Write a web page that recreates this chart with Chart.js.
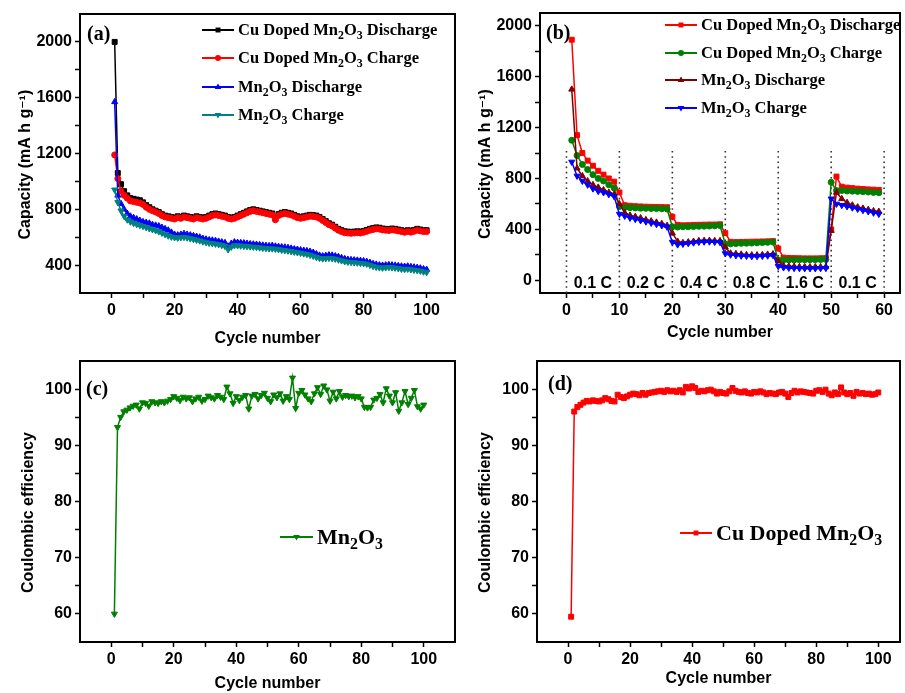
<!DOCTYPE html>
<html>
<head>
<meta charset="utf-8">
<script src="https://cdn.jsdelivr.net/npm/chart.js@4"></script>
<style>
html, body { margin: 0; padding: 0; background: #fff; width: 905px; height: 693px; overflow: hidden; }
canvas.plot { position: absolute; }
.tag { position: absolute; font: bold 20px "Liberation Serif", "Times New Roman", serif; line-height: 24px; color: #000; }
.legend { position: absolute; font: bold 16.5px "Liberation Serif", "Times New Roman", serif; color: #000; }
.legend .row { display: flex; align-items: center; white-space: nowrap; }
.legend canvas { margin-right: 4px; }
.legend sub { font-size: 0.72em; vertical-align: -0.32em; line-height: 0; }
</style>
</head>
<body>
<canvas class="plot" id="chartA" width="460" height="350" style="left:0;top:0"></canvas>
<canvas class="plot" id="chartB" width="445" height="345" style="left:460px;top:0"></canvas>
<canvas class="plot" id="chartC" width="460" height="353" style="left:0;top:340px"></canvas>
<canvas class="plot" id="chartD" width="445" height="353" style="left:460px;top:340px"></canvas>

<div class="tag" style="left:87px;top:21px">(a)</div>
<div class="tag" style="left:546px;top:20px">(b)</div>
<div class="tag" style="left:86px;top:376px">(c)</div>
<div class="tag" style="left:548px;top:371px">(d)</div>

<div class="legend" id="legendA" style="left:202px;top:16px"></div>
<div class="legend" id="legendB" style="left:665px;top:11px"></div>
<div class="legend" id="legendC" style="left:280px;top:523px;font-size:22px"></div>
<div class="legend" id="legendD" style="left:680px;top:519px;font-size:22px"></div>

<script>
// ---- Panel (a): long cycling, capacity vs cycle number ----
const aNames = ['Cu Doped Mn2O3 Discharge', 'Cu Doped Mn2O3 Charge', 'Mn2O3 Discharge', 'Mn2O3 Charge'];
const aCuDischarge = [
    2000, 1060, 980, 930, 900, 880, 875, 870, 865, 850,
    830, 815, 800, 790, 780, 765, 755, 750, 745, 740,
    750, 745, 755, 750, 745, 740, 750, 745, 740, 745,
    755, 765, 770, 765, 760, 755, 745, 740, 745, 755,
    765, 775, 785, 795, 800, 795, 790, 785, 780, 775,
    770, 735, 765, 775, 780, 775, 770, 760, 750, 745,
    750, 755, 760, 758, 755, 745, 730, 715, 700, 690,
    675, 660, 650, 642, 640, 638, 640, 642, 640, 645,
    652, 660, 665, 670, 668, 662, 660, 658, 662, 660,
    655, 650, 645, 650, 646, 652, 660, 655, 650, 650
];
const aCuCharge = [
    1190, 1020, 930, 900, 880, 860, 855, 850, 845, 835,
    815, 800, 790, 780, 770, 755, 745, 740, 735, 730,
    740, 735, 745, 740, 735, 730, 740, 735, 730, 735,
    745, 755, 760, 755, 750, 745, 735, 730, 735, 745,
    755, 765, 775, 785, 790, 785, 780, 775, 770, 765,
    760, 725, 755, 765, 770, 765, 760, 750, 740, 735,
    740, 745, 750, 748, 745, 735, 720, 705, 690, 680,
    665, 650, 640, 632, 630, 628, 630, 632, 630, 635,
    642, 650, 655, 660, 658, 652, 650, 648, 652, 650,
    645, 640, 635, 640, 636, 642, 650, 645, 640, 640
];
const aMnDischarge = [
    1570, 900, 840, 800, 770, 750, 740, 730, 720, 710,
    705, 700, 690, 685, 680, 670, 660, 650, 635, 620,
    615, 620, 625, 620, 615, 610, 605, 600, 590, 585,
    580, 578, 575, 570, 565, 560, 535, 555, 565, 562,
    560, 558, 555, 552, 550, 548, 545, 542, 540, 538,
    540, 535, 532, 530, 528, 525, 520, 515, 512, 508,
    505, 502, 498, 490, 480, 470, 465, 468, 472, 470,
    465, 460, 452, 445, 440, 438, 436, 434, 432, 430,
    425, 418, 410, 405, 400, 398, 400, 402, 400, 398,
    395, 392, 390, 392, 388, 385, 382, 378, 372, 368
];
const aMnCharge = [
    940, 850, 790, 750, 725, 710, 700, 692, 685, 678,
    670, 662, 655, 648, 640, 630, 620, 610, 602, 598,
    595, 598, 600, 596, 590, 585, 580, 575, 568, 562,
    558, 555, 552, 548, 542, 536, 512, 530, 540, 540,
    538, 536, 534, 532, 530, 528, 525, 522, 520, 518,
    518, 515, 512, 508, 505, 502, 498, 494, 490, 486,
    482, 478, 472, 465, 456, 450, 446, 448, 450, 448,
    444, 438, 432, 426, 422, 420, 418, 416, 414, 412,
    408, 400, 392, 386, 382, 380, 382, 384, 382, 380,
    376, 372, 370, 372, 368, 365, 362, 358, 352, 348
];
const aYMajor = [400, 800, 1200, 1600, 2000];
const aYMinor = [600, 1000, 1400, 1800];
const aXMajor = [0, 20, 40, 60, 80, 100];
const aXMinor = [10, 30, 50, 70, 90];

// ---- Panel (b): rate capability ----
const bNames = ['Cu Doped Mn2O3 Discharge', 'Cu Doped Mn2O3 Charge', 'Mn2O3 Discharge', 'Mn2O3 Charge'];
const bCuDischarge = [
    1890, 1140, 1000, 940, 900, 860, 830, 800, 775,
    690, 590, 585, 582, 580, 578, 577, 576, 575, 574,
    500, 435, 432, 433, 435, 436, 437, 438, 438, 440,
    370, 302, 300, 301, 302, 303, 304, 305, 306, 308,
    250, 178, 175, 174, 173, 172, 172, 172, 173, 174,
    400, 815, 735, 728, 724, 720, 717, 714, 712, 710
];
const bCuCharge = [
    1100, 980, 910, 870, 830, 800, 780, 750, 725,
    580, 572, 570, 568, 566, 565, 564, 563, 562, 560,
    420, 418, 420, 421, 422, 424, 425, 426, 428, 430,
    285, 286, 288, 290, 291, 292, 294, 296, 298, 300,
    160, 160, 160, 160, 161, 161, 162, 162, 163, 164,
    770, 705, 705, 702, 700, 698, 696, 694, 690, 688
];
const bMnDischarge = [
    1500, 880, 820, 780, 750, 730, 710, 690, 675,
    600, 530, 510, 500, 490, 475, 465, 455, 445, 430,
    370, 305, 295, 300, 305, 310, 312, 312, 310, 310,
    260, 212, 208, 204, 200, 198, 198, 200, 203, 206,
    150, 115, 110, 108, 106, 105, 105, 105, 105, 106,
    390, 690, 640, 610, 590, 575, 565, 555, 545, 540
];
const bMnCharge = [
    930, 820, 780, 750, 720, 700, 690, 675, 660,
    520, 505, 490, 480, 470, 460, 450, 440, 430, 420,
    300, 280, 285, 290, 295, 300, 302, 303, 300, 298,
    210, 200, 195, 192, 190, 188, 188, 190, 193, 196,
    110, 100, 97, 95, 94, 93, 93, 93, 94, 95,
    640, 600, 590, 580, 570, 560, 550, 540, 530, 520
];
const bDividers = [0, 10, 20, 30, 40, 50, 60];
const bRates = ['0.1 C', '0.2 C', '0.4 C', '0.8 C', '1.6 C', '0.1 C'];
const bYMajor = [0, 400, 800, 1200, 1600, 2000];
const bYMinor = [200, 600, 1000, 1400, 1800];
const bXMajor = [0, 10, 20, 30, 40, 50, 60];
const bXMinor = [5, 15, 25, 35, 45, 55];

// ---- Panel (c): coulombic efficiency, Mn2O3 ----
const cName = 'Mn2O3';
const cEfficiency = [
    60, 93.2, 95, 96, 96.3, 96.7, 97, 97.2, 96.5, 97.6,
    97.5, 97, 97.8, 97.6, 97.5, 97.8, 97.6, 97.9, 98.2, 98.7,
    98.4, 98, 98.6, 98.3, 98.5, 97.8, 98.3, 98.6, 97.9, 98.2,
    98.8, 98.5, 98.3, 98.9, 98.6, 98.2, 100.4, 99.2, 97.5, 98.7,
    98, 98.6, 98.9, 96.5, 98.8, 99.1, 98.3, 98.9, 99.3, 98.4,
    97.8, 99, 98.5, 99.2, 97.9, 98.7, 98.2, 102, 96.6, 99.3,
    99.8, 99, 98.3, 97.8, 99.2, 100.3, 99.1, 100.6, 99.9, 97.9,
    99.5, 98.3, 99.6, 98.6, 98.9, 98.7, 98.8, 98.5, 98.7, 98.3,
    96.8, 96.7, 96.8, 98.1, 98.4, 99.1, 97.6, 100.1, 98.8, 97.6,
    99.4, 96.1, 97.6, 99.6, 97.3, 98.4, 99.8, 96.9, 96.5, 97.2
];

// ---- Panel (d): coulombic efficiency, Cu doped Mn2O3 ----
const dName = 'Cu Doped Mn2O3';
const dEfficiency = [
    59.5, 96, 96.8, 97.2, 97.6, 97.9, 97.8, 98, 97.9, 97.8,
    98, 98.4, 98.2, 97.9, 97.8, 99, 98.6, 98.4, 98.7, 99,
    99.2, 99.1, 98.9, 99.3, 99, 99.3, 99.4, 99.5, 99.6, 99.7,
    99.5, 99.8, 99.6, 99.7, 99.5, 99.8, 99.4, 100.4, 100.1, 100.5,
    100.2, 99.5, 99.7, 99.6, 99.8, 99.9, 99.6, 99.2, 99.5, 99.3,
    99.2, 99.6, 100.2, 99.7, 99.5, 99.4, 99.6, 99.3, 99.2, 99.5,
    99.4, 99.6, 99.4, 99.1, 99.3, 99.2, 99.1, 99.4, 99.5, 99.2,
    98.6, 99.3, 99.7, 99.4, 99.6, 99.5, 99.4, 99.3, 99.2, 99.7,
    99.8, 99.5, 99.9, 99.2, 98.9, 99.4, 99.1, 100.3, 99.4, 99.1,
    99.3, 98.8, 99.5, 99.2, 99.3, 99.1, 99.2, 99, 99.1, 99.4
];
const effYMajor = [60, 70, 80, 90, 100];
const effYMinor = [65, 75, 85, 95];

// ---- shared styling ----
const tickFont = { family: '"Liberation Sans", Arial, "DejaVu Sans", sans-serif', weight: 'bold', size: 16 };
const titleFont = { family: '"Liberation Sans", Arial, "DejaVu Sans", sans-serif', weight: 'bold', size: 16 };

// Draws top/right border of the plot box
const framePlugin = {
    id: 'frame',
    afterDraw(chart) {
        const { ctx, chartArea: a } = chart;
        ctx.save();
        ctx.strokeStyle = '#000';
        ctx.lineWidth = 2;
        ctx.beginPath();
        ctx.moveTo(a.left, a.top);
        ctx.lineTo(a.right, a.top);
        ctx.lineTo(a.right, a.bottom);
        ctx.stroke();
        ctx.restore();
    }
};

// C-rate labels between the dotted dividers of panel (b)
const rateLabelPlugin = {
    id: 'rateLabels',
    afterDatasetsDraw(chart) {
        const { ctx, scales } = chart;
        ctx.save();
        ctx.fillStyle = '#000';
        ctx.font = 'bold 16px "Liberation Sans", Arial, sans-serif';
        ctx.textAlign = 'center';
        ctx.textBaseline = 'middle';
        bRates.forEach((txt, i) => {
            const mid = (bDividers[i] + bDividers[i + 1]) / 2;
            ctx.fillText(txt, scales.x.getPixelForValue(mid), scales.y.getPixelForValue(-26));
        });
        ctx.restore();
    }
};

function axis(o) {
    return {
        type: 'linear',
        min: o.min,
        max: o.max,
        afterBuildTicks: s => {
            s.ticks = o.major.concat(o.minor).sort((p, q) => p - q).map(v => ({ value: v }));
        },
        afterFit: s => {
            if (s.isHorizontal()) s.height = o.box;
            else s.width = o.box;
        },
        ticks: {
            autoSkip: false, maxRotation: 0, padding: 3, color: '#000', font: tickFont,
            callback: v => (o.major.includes(v) ? String(v) : '')
        },
        grid: { drawOnChartArea: false, tickLength: 5, tickColor: '#000', tickWidth: 1.5 },
        border: { color: '#000', width: 2 },
        title: { display: true, text: o.title, color: '#000', font: titleFont, padding: o.titlePad }
    };
}

function series(label, values, color, style, radius, rotation, order) {
    return {
        label: label,
        data: values.map((y, i) => ({ x: i + 1, y: y })),
        borderColor: color,
        backgroundColor: color,
        borderWidth: 1.5,
        pointStyle: style,
        pointRadius: radius,
        pointRotation: rotation,
        pointBorderWidth: 1,
        order: order
    };
}

function makeChart(id, datasets, x, y, pad, extra) {
    return new Chart(document.getElementById(id), {
        type: 'line',
        data: { datasets: datasets },
        options: {
            responsive: false,
            animation: false,
            devicePixelRatio: 1,
            layout: { padding: pad },
            plugins: { legend: { display: false }, tooltip: { enabled: false } },
            scales: { x: x, y: y }
        },
        plugins: [framePlugin].concat(extra || [])
    });
}

// y titles are padded with trailing spaces so the visible text sits a bit lower, like the original
const capTitle = 'Capacity (mA h g\u207B\u00B9)     ';
const effTitle = 'Coulombic efficiency     ';

// Panel (a)
makeChart('chartA', [
    series(aNames[0], aCuDischarge, '#000000', 'rect', 3.5, 0, 4),
    series(aNames[1], aCuCharge, '#ff0000', 'circle', 3, 0, 3),
    series(aNames[2], aMnDischarge, '#0000ff', 'triangle', 3.5, 0, 2),
    series(aNames[3], aMnCharge, '#008080', 'triangle', 3.5, 180, 1)
],
    axis({ min: -10, max: 109, major: aXMajor, minor: aXMinor, box: 57, title: 'Cycle number', titlePad: { top: 0, bottom: 2 } }),
    axis({ min: 200, max: 2200, major: aYMajor, minor: aYMinor, box: 80, title: capTitle, titlePad: { top: 16, bottom: 0 } }),
    { left: 0, top: 14, right: 5, bottom: 0 });

// Panel (b)
const bDividerSets = bDividers.map(d => ({
    data: [{ x: d, y: -100 }, { x: d, y: 1020 }],
    borderColor: '#333',
    borderWidth: 1.6,
    borderDash: [1.6, 3.6],
    pointRadius: 0,
    order: 10
}));
makeChart('chartB', [
    series(bNames[0], bCuDischarge, '#ff0000', 'rect', 3.5, 0, 4),
    series(bNames[1], bCuCharge, '#008000', 'circle', 3, 0, 3),
    series(bNames[2], bMnDischarge, '#800000', 'triangle', 3.5, 0, 2),
    series(bNames[3], bMnCharge, '#0000ff', 'triangle', 3.5, 180, 1)
].concat(bDividerSets),
    axis({ min: -5, max: 63, major: bXMajor, minor: bXMinor, box: 52, title: 'Cycle number', titlePad: { top: 0, bottom: 3 } }),
    axis({ min: -100, max: 2100, major: bYMajor, minor: bYMinor, box: 80, title: capTitle, titlePad: { top: 16, bottom: 0 } }),
    { left: 0, top: 13, right: 2, bottom: 0 },
    [rateLabelPlugin]);

// Panel (c)
makeChart('chartC', [
    series(cName, cEfficiency, '#008000', 'triangle', 3.5, 180, 1)
],
    axis({ min: -10, max: 110, major: aXMajor, minor: aXMinor, box: 51, title: 'Cycle number', titlePad: { top: 0, bottom: 0 } }),
    axis({ min: 55, max: 105, major: effYMajor, minor: effYMinor, box: 80, title: effTitle, titlePad: { top: 19, bottom: 0 } }),
    { left: 0, top: 21, right: 5, bottom: 0 });

// Panel (d)
makeChart('chartD', [
    series(dName, dEfficiency, '#ff0000', 'rect', 3.5, 0, 1)
],
    axis({ min: -10, max: 107, major: aXMajor, minor: aXMinor, box: 51, title: 'Cycle number', titlePad: { top: 0, bottom: 5 } }),
    axis({ min: 55, max: 105, major: effYMajor, minor: effYMinor, box: 77, title: effTitle, titlePad: { top: 16, bottom: 0 } }),
    { left: 0, top: 21, right: 2, bottom: 0 });

// ---- HTML legends (so Mn2O3 can carry real subscripts) ----
function drawMarker(ctx, style, x, y, r, rotation) {
    ctx.beginPath();
    if (style === 'rect') {
        const s = r * Math.SQRT1_2;
        ctx.rect(x - s, y - s, 2 * s, 2 * s);
    } else if (style === 'circle') {
        ctx.arc(x, y, r, 0, Math.PI * 2);
    } else {
        const dir = rotation === 180 ? -1 : 1;
        ctx.moveTo(x, y - dir * r);
        ctx.lineTo(x + r * 0.95, y + dir * r * 0.6);
        ctx.lineTo(x - r * 0.95, y + dir * r * 0.6);
        ctx.closePath();
    }
    ctx.fill();
}

function buildLegend(elId, chartId, rowHeight, swatchW) {
    const chart = Chart.getChart(chartId);
    const box = document.getElementById(elId);
    chart.data.datasets.filter(ds => ds.label).forEach(ds => {
        const row = document.createElement('div');
        row.className = 'row';
        row.style.height = rowHeight + 'px';
        const sw = document.createElement('canvas');
        sw.width = swatchW;
        sw.height = 12;
        const c = sw.getContext('2d');
        c.strokeStyle = ds.borderColor;
        c.fillStyle = ds.borderColor;
        c.lineWidth = 2;
        c.beginPath();
        c.moveTo(0, 6);
        c.lineTo(swatchW, 6);
        c.stroke();
        drawMarker(c, ds.pointStyle, swatchW / 2, 6, ds.pointRadius, ds.pointRotation);
        const label = document.createElement('span');
        label.innerHTML = ds.label.replace(/(Mn|O)(\d)/g, '$1<sub>$2</sub>');
        row.appendChild(sw);
        row.appendChild(label);
        box.appendChild(row);
    });
}

buildLegend('legendA', 'chartA', 28.3, 32);
buildLegend('legendB', 'chartB', 27.7, 32);
buildLegend('legendC', 'chartC', 28, 33);
buildLegend('legendD', 'chartD', 28, 32);
</script>
</body>
</html>
